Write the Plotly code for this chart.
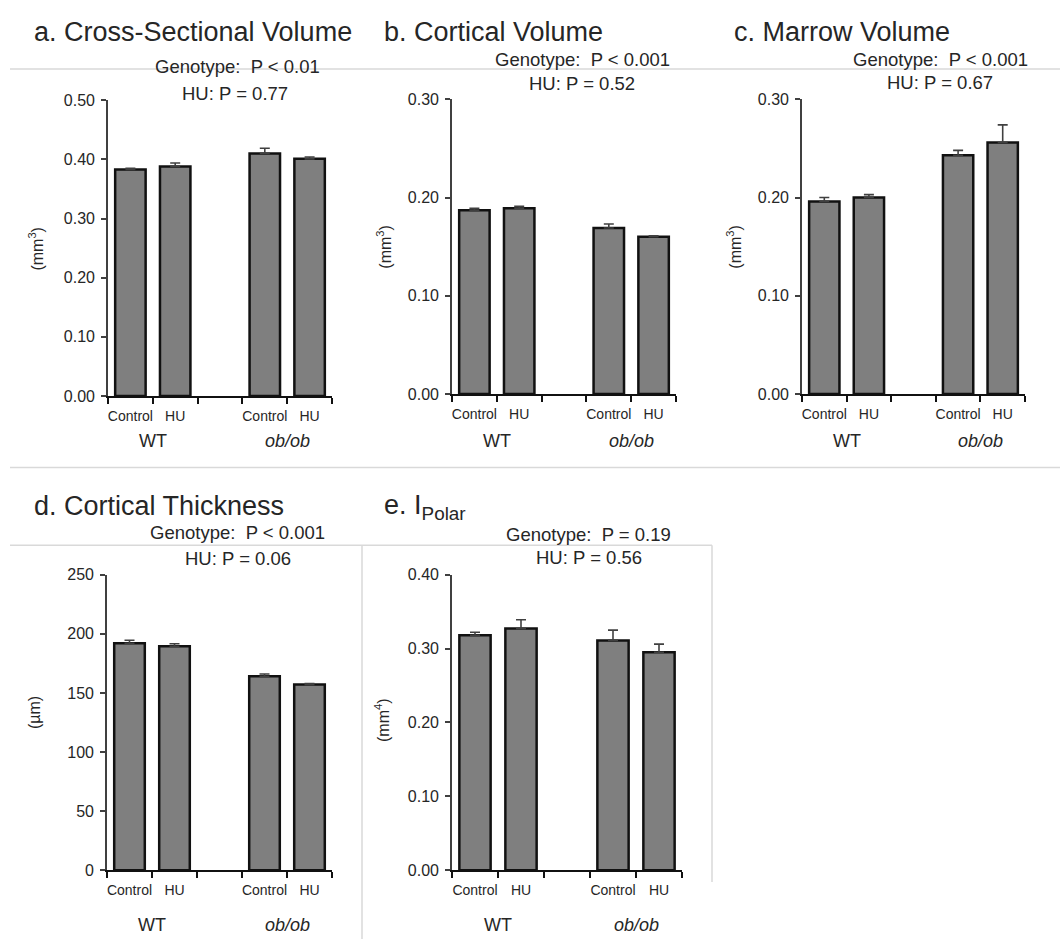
import plotly.graph_objects as go

W, H = 1060, 948

# ---------------- data ----------------
groups = ["WT", "<i>ob/ob</i>"]
conditions = ["Control", "HU", "Control", "HU"]

titles = ["a. Cross-Sectional Volume", "b. Cortical Volume", "c. Marrow Volume",
          "d. Cortical Thickness", "e. I<sub>Polar</sub>"]
geno_p = ["Genotype:  P < 0.01", "Genotype:  P < 0.001", "Genotype:  P < 0.001",
          "Genotype:  P < 0.001", "Genotype:  P = 0.19"]
hu_p = ["HU: P = 0.77", "HU: P = 0.52", "HU: P = 0.67", "HU: P = 0.06", "HU: P = 0.56"]
units = ["(mm<sup>3</sup>)", "(mm<sup>3</sup>)", "(mm<sup>3</sup>)", "(µm)", "(mm<sup>4</sup>)"]

cs_volume = [0.383, 0.388, 0.410, 0.401]
cs_volume_err = [0.002, 0.006, 0.009, 0.003]
ct_volume = [0.187, 0.189, 0.169, 0.160]
ct_volume_err = [0.002, 0.002, 0.004, 0.001]
ma_volume = [0.196, 0.200, 0.243, 0.256]
ma_volume_err = [0.004, 0.003, 0.005, 0.018]
ct_thickness = [192.0, 189.5, 164.0, 157.0]
ct_thickness_err = [2.5, 2.0, 2.0, 1.0]
i_polar = [0.318, 0.327, 0.311, 0.295]
i_polar_err = [0.004, 0.012, 0.014, 0.011]

values = [cs_volume, ct_volume, ma_volume, ct_thickness, i_polar]
errors = [cs_volume_err, ct_volume_err, ma_volume_err, ct_thickness_err, i_polar_err]

y_max = [0.50, 0.30, 0.30, 250, 0.40]
y_step = [0.10, 0.10, 0.10, 50, 0.10]
y_fmt = [".2f", ".2f", ".2f", "d", ".2f"]

bar_x = [0, 1, 3, 4]          # category slots (slot 2 is the gap)
group_x = [0.5, 3.5]
boundaries = [-0.5, 0.5, 1.5, 2.5, 3.5, 4.5]

# ---------------- layout geometry (pixels) ----------------
# (x_left, x_right, y_zero, y_top)
panels_px = [
    (108, 332, 395, 94),
    (452, 676, 393, 93),
    (802, 1025, 393, 93),
    (107, 332, 878, 577),
    (452, 682, 878, 577),
]
title_px = [(32, 24), (382, 24), (732, 24), (32, 507), (382, 508)]
geno_px = [(237, 60), (582, 52), (940, 52), (237, 534), (588, 536)]
hu_px = [(235, 87), (582, 77), (940, 76), (238, 561), (589, 560)]
unit_px = [(36, 245), (384, 243), (734, 243), (34, 718), (382, 725)]
group_y_px = [441, 441, 441, 934, 934]

FONT = "Liberation Sans, Arial, sans-serif"
TXT = "#262626"


def px(x):
    return x / W


def py(y):
    return 1 - y / H


fig = go.Figure()
annotations = []
shapes = []

for i in range(5):
    n = "" if i == 0 else str(i + 1)
    xl, xr, y0, yt = panels_px[i]
    fig.add_trace(go.Bar(
        x=bar_x, y=values[i],
        xaxis="x" + n, yaxis="y" + n,
        width=0.68,
        marker=dict(color="#7f7f7f", line=dict(color="#111111", width=2.5)),
        error_y=dict(type="data", symmetric=False, array=errors[i],
                     arrayminus=[0] * 4, color="#404040", thickness=1.6, width=5),
        showlegend=False,
    ))
    tickv = [round(k * y_step[i], 6) for k in range(int(round(y_max[i] / y_step[i])) + 1)]
    fig.layout["xaxis" + n] = dict(
        domain=[px(xl), px(xr)], anchor="y" + n, range=[-0.5, 4.5],
        tickvals=bar_x, ticktext=conditions, ticks="",
        tickfont=dict(family=FONT, size=14, color=TXT),
        ticklabelstandoff=6,
        minor=dict(tickvals=boundaries, ticks="outside", ticklen=6,
                   tickwidth=2, tickcolor="#111111"),
        showline=True, linecolor="#111111", linewidth=2.2,
        showgrid=False, zeroline=False, fixedrange=True,
    )
    fig.layout["yaxis" + n] = dict(
        domain=[py(y0), py(yt)], anchor="x" + n, range=[0, y_max[i]],
        tickvals=tickv, tickformat=y_fmt[i], ticks="outside", ticklen=5,
        tickwidth=1.5, tickcolor="#404040",
        tickfont=dict(family=FONT, size=16, color=TXT),
        ticklabelstandoff=3,
        showline=True, linecolor="#404040", linewidth=1.6,
        showgrid=False, zeroline=False, fixedrange=True,
    )
    # title
    annotations.append(dict(text=titles[i], x=px(title_px[i][0]), y=py(title_px[i][1]),
                            xref="paper", yref="paper", xanchor="left", yanchor="middle",
                            showarrow=False, font=dict(family=FONT, size=27, color=TXT)))
    annotations.append(dict(text=geno_p[i], x=px(geno_px[i][0]), y=py(geno_px[i][1]),
                            xref="paper", yref="paper", xanchor="center", yanchor="middle",
                            showarrow=False, font=dict(family=FONT, size=18.5, color=TXT)))
    annotations.append(dict(text=hu_p[i], x=px(hu_px[i][0]), y=py(hu_px[i][1]),
                            xref="paper", yref="paper", xanchor="center", yanchor="middle",
                            showarrow=False, font=dict(family=FONT, size=18.5, color=TXT)))
    annotations.append(dict(text=units[i], x=px(unit_px[i][0]), y=py(unit_px[i][1]),
                            xref="paper", yref="paper", xanchor="center", yanchor="middle",
                            textangle=-90, showarrow=False,
                            font=dict(family=FONT, size=16, color=TXT)))
    for g, gx in zip(groups, group_x):
        annotations.append(dict(text=g, x=gx, y=py(group_y_px[i]),
                                xref="x" + n, yref="paper", xanchor="center", yanchor="middle",
                                showarrow=False, font=dict(family=FONT, size=18, color=TXT)))

# light separator lines
LINE = dict(color="#d9d9d9", width=1.5)
for (x0, y0, x1, y1) in [(10, 62, 1060, 62), (10, 468, 1060, 468), (10, 547, 712, 547),
                         (362, 547, 362, 948), (712, 547, 712, 890)]:
    shapes.append(dict(type="line", xref="paper", yref="paper",
                       x0=px(x0), y0=py(y0), x1=px(x1), y1=py(y1), line=LINE, layer="below"))

fig.update_layout(
    width=W, height=H,
    margin=dict(l=0, r=0, t=0, b=0),
    paper_bgcolor="white", plot_bgcolor="white",
    annotations=annotations, shapes=shapes,
    bargap=0.3,
)

fig.write_html("out.html", config={"displayModeBar": False})
